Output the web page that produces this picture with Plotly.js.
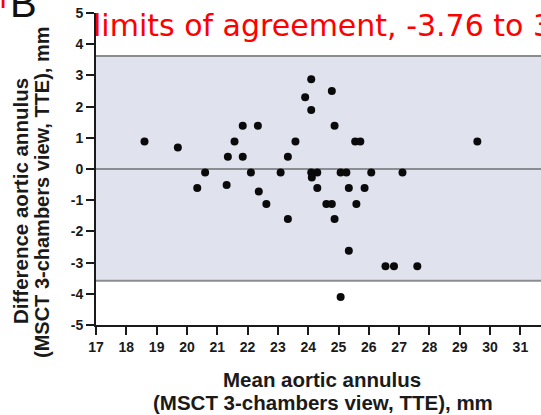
<!DOCTYPE html>
<html>
<head>
<meta charset="utf-8">
<script src="https://cdn.plot.ly/plotly-3.0.1.min.js"></script>
<style>
  html, body { margin: 0; padding: 0; background: #fff; }
  #chart { width: 541px; height: 415px; }
</style>
</head>
<body>
<div id="chart"></div>
<script>
// Bland-Altman comparison of aortic annulus size: MSCT 3-chambers view vs TTE
const meanAnnulus = [
  18.60, 19.70, 20.34, 20.60, 21.31, 21.35, 21.57, 21.84, 21.84, 22.11,
  22.34, 22.37, 22.62, 23.09, 23.33, 23.33, 23.58, 23.90, 24.10, 24.10,
  24.10, 24.12, 24.30, 24.30, 24.60, 24.78, 24.78, 24.87, 24.87, 25.07,
  25.07, 25.26, 25.34, 25.34, 25.55, 25.59, 25.72, 25.86, 26.08, 26.55,
  26.83, 27.11, 27.60, 29.58
];
const diffAnnulus = [
  0.88, 0.69, -0.61, -0.11, -0.51, 0.39, 0.88, 1.39, 0.39, -0.11,
  1.39, -0.72, -1.12, -0.11, 0.39, -1.60, 0.88, 2.30, 2.88, 1.89,
  -0.11, -0.27, -0.11, -0.61, -1.12, -1.12, 2.50, 1.39, -1.60, -0.11,
  -4.10, -0.11, -0.61, -2.62, 0.88, -1.12, 0.88, -0.61, -0.11, -3.12,
  -3.12, -0.11, -3.12, 0.88
];
const upperLimit = 3.62;
const lowerLimit = -3.58;
const meanDifference = 0;

const xTickVals = [17, 18, 19, 20, 21, 22, 23, 24, 25, 26, 27, 28, 29, 30, 31, 32];
const yTickVals = [-5, -4, -3, -2, -1, 0, 1, 2, 3, 4, 5];

const agreementText = 'limits of agreement, -3.76 to 3';
const panelLetter = 'B';
const xTitleLines = ['Mean aortic annulus', '(MSCT 3-chambers view, TTE), mm'];
const yTitleLines = ['Difference aortic annulus', '(MSCT 3-chambers view, TTE), mm'];

const baseFamily = 'Liberation Sans, Arial, sans-serif';
const tickFont = { family: baseFamily, size: 14, color: '#1a1a1a', weight: 'bold' };
const titleFont = { family: baseFamily, size: 20.5, color: '#1a1a1a', weight: 'bold' };
const titleFont2 = { family: baseFamily, size: 20, color: '#1a1a1a', weight: 'bold' };
const redFont = { family: 'DejaVu Sans, sans-serif', size: 30, color: '#ff0000' };
const lineGrey = '#8a8c90';

const trace = {
  type: 'scatter',
  mode: 'markers',
  x: meanAnnulus,
  y: diffAnnulus,
  marker: { color: '#0a0a0a', size: 8, line: { width: 0 } },
  hoverinfo: 'x+y',
  showlegend: false
};

const layout = {
  width: 541,
  height: 415,
  margin: { l: 96, r: 0, t: 13, b: 90, pad: 0 },
  paper_bgcolor: '#ffffff',
  plot_bgcolor: '#ffffff',
  showlegend: false,
  xaxis: {
    range: [17, 31.68],
    tickvals: xTickVals,
    ticktext: xTickVals.map(String),
    ticks: 'outside', ticklen: 8, tickwidth: 2, tickcolor: '#1a1a1a',
    showline: true, linecolor: '#1a1a1a', linewidth: 2,
    showgrid: false, zeroline: false,
    tickfont: tickFont
  },
  yaxis: {
    range: [-5, 5],
    tickvals: yTickVals,
    ticktext: yTickVals.map(String),
    ticks: 'outside', ticklen: 8, tickwidth: 2, tickcolor: '#1a1a1a',
    showline: true, linecolor: '#1a1a1a', linewidth: 2,
    showgrid: false, zeroline: false,
    tickfont: tickFont
  },
  shapes: [
    { type: 'rect', xref: 'paper', yref: 'y', x0: 0, x1: 1, y0: lowerLimit, y1: upperLimit,
      fillcolor: '#e0e3ee', line: { width: 0 }, layer: 'below' },
    { type: 'line', xref: 'paper', yref: 'y', x0: 0, x1: 1, y0: upperLimit, y1: upperLimit,
      line: { color: lineGrey, width: 2 }, layer: 'below' },
    { type: 'line', xref: 'paper', yref: 'y', x0: 0, x1: 1, y0: lowerLimit, y1: lowerLimit,
      line: { color: lineGrey, width: 2 }, layer: 'below' },
    { type: 'line', xref: 'paper', yref: 'y', x0: 0, x1: 1, y0: meanDifference, y1: meanDifference,
      line: { color: lineGrey, width: 2 }, layer: 'below' }
  ],
  annotations: [
    // red headline about the limits of agreement, running off the right edge
    { text: agreementText, xref: 'paper', yref: 'paper', x: -0.011, y: 1.0, xanchor: 'left', yanchor: 'middle',
      yshift: -12, showarrow: false, font: redFont },
    // panel letter, partly above the top edge
    { text: panelLetter, xref: 'paper', yref: 'paper', x: -0.198, y: 1.0, xanchor: 'left', yanchor: 'middle',
      yshift: 10, showarrow: false, font: { family: baseFamily, size: 40, color: '#111111' } },
    // tail of the neighbouring red heading at the corner
    { text: 'n', xref: 'paper', yref: 'paper', x: -0.196, y: 1.0, xanchor: 'right', yanchor: 'middle',
      yshift: 16, showarrow: false, font: redFont },
    // x-axis title, two lines
    { text: xTitleLines[0], xref: 'paper', yref: 'paper', x: 0.5, y: 0, xanchor: 'center', yanchor: 'middle',
      xshift: 3, yshift: -54.5, showarrow: false, font: titleFont },
    { text: xTitleLines[1], xref: 'paper', yref: 'paper', x: 0.5, y: 0, xanchor: 'center', yanchor: 'middle',
      xshift: 4, yshift: -77.5, showarrow: false, font: titleFont },
    // y-axis title, two rotated lines
    { text: yTitleLines[0], xref: 'paper', yref: 'paper', x: 0, y: 0.5, xanchor: 'center', yanchor: 'middle',
      xshift: -76, yshift: -32, textangle: -90, showarrow: false, font: titleFont },
    { text: yTitleLines[1], xref: 'paper', yref: 'paper', x: 0, y: 0.5, xanchor: 'center', yanchor: 'middle',
      xshift: -54, yshift: -23, textangle: -90, showarrow: false, font: titleFont2 }
  ]
};

Plotly.newPlot('chart', [trace], layout, { displayModeBar: false, staticPlot: true });
</script>
</body>
</html>
